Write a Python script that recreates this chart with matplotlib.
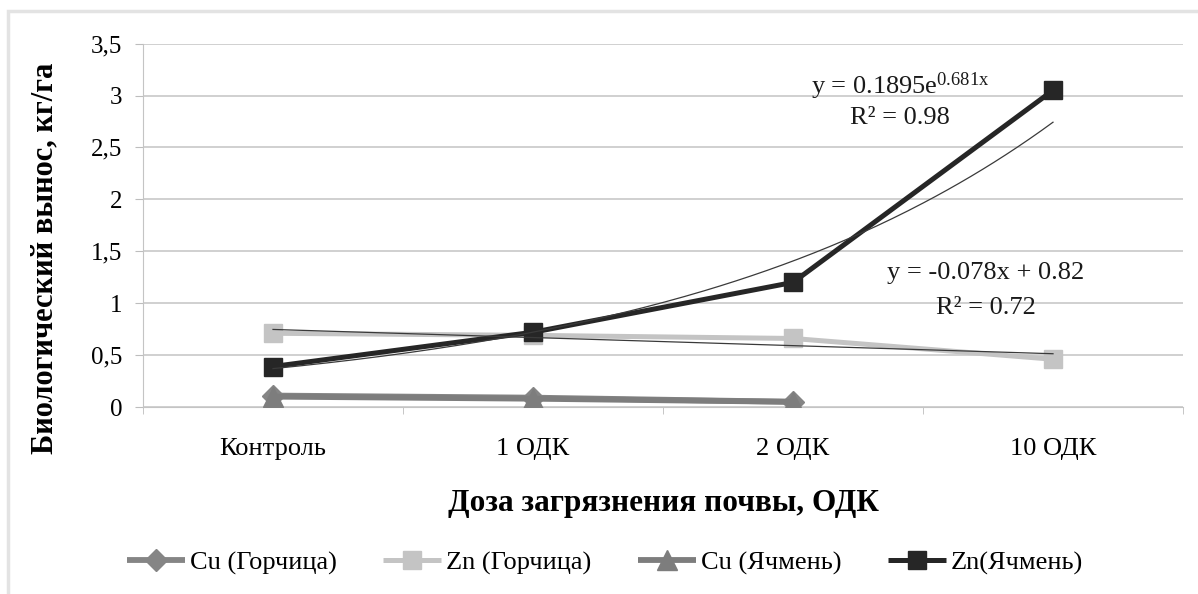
import numpy as np
import matplotlib
matplotlib.use("Agg")
import matplotlib.pyplot as plt
from matplotlib.patches import Rectangle

categories = ["Контроль", "1 ОДК", "2 ОДК", "10 ОДК"]
cu_gorchica = [0.11, 0.09, 0.05]
zn_gorchica = [0.71, 0.69, 0.66, 0.46]
cu_yachmen = [0.10, 0.08, 0.05]
zn_yachmen = [0.39, 0.72, 1.20, 3.05]
y_ticks = [0, 0.5, 1, 1.5, 2, 2.5, 3, 3.5]
y_tick_labels = ["0", "0,5", "1", "1,5", "2", "2,5", "3", "3,5"]

plt.rcParams['font.family'] = ['Liberation Serif', 'DejaVu Serif']
plt.rcParams['mathtext.fontset'] = 'custom'
plt.rcParams['mathtext.rm'] = 'Liberation Serif'
plt.rcParams['mathtext.it'] = 'Liberation Serif'

W, H = 1198, 594
fig = plt.figure(figsize=(W / 100, H / 100), dpi=100)
fig.patch.set_facecolor('white')
fig.add_artist(Rectangle((8 / W, -0.05), 1.1, 1 - 11 / H + 0.05, transform=fig.transFigure,
                         fill=False, edgecolor='#e3e3e3', linewidth=2.5))

ax = fig.add_axes([143 / W, 1 - 407 / H, (1183 - 143) / W, (407 - 43.6) / H])
x = np.arange(1, len(categories) + 1)

ax.plot(x[:3], cu_gorchica, color='#858585', lw=4.2, marker='D', ms=11, zorder=3,
        label='Cu (Горчица)', solid_capstyle='butt')
ax.plot(x, zn_gorchica, color='#c4c4c4', lw=3.6, marker='s', ms=13.5, zorder=4,
        label='Zn (Горчица)', solid_capstyle='butt')
ax.plot(x[:3], cu_yachmen, color='#7d7d7d', lw=4.2, marker='^', ms=14, zorder=5,
        label='Cu (Ячмень)', solid_capstyle='butt')
ax.plot(x, zn_yachmen, color='#262626', lw=3.6, marker='s', ms=13.5, zorder=6,
        label='Zn(Ячмень)', solid_capstyle='butt')

# trendlines fitted from the data
xs = np.linspace(1, 4, 200)
b, a = np.polyfit(x, np.log(zn_yachmen), 1)
ax.plot(xs, np.exp(a) * np.exp(b * xs), color='#3a3a3a', lw=0.9, zorder=7)
m, c = np.polyfit(x, zn_gorchica, 1)
ax.plot(xs, m * xs + c, color='#3a3a3a', lw=0.9, zorder=7)

def px2x(px):
    return (px - 143) / 260 + 0.5

def py2y(py):
    return (407 - py) / 104

ax.text(px2x(811), py2y(93), r"y = 0.1895e$^{0.681x}$", fontsize=19, color='#1a1a1a',
        ha='left', va='baseline', zorder=8)
ax.text(px2x(900), py2y(118), "R² = 0.98", fontsize=19, color='#1a1a1a',
        ha='center', va='center', zorder=8)
ax.text(px2x(986), py2y(273), "y = -0.078x + 0.82", fontsize=19, color='#1a1a1a',
        ha='center', va='center', zorder=8)
ax.text(px2x(986), py2y(308), "R² = 0.72", fontsize=19, color='#1a1a1a',
        ha='center', va='center', zorder=8)

ax.set_xlim(0.5, 4.5)
ax.set_ylim(0, 3.5)
ax.set_yticks(y_ticks)
ax.set_yticklabels(y_tick_labels, fontsize=18)
ax.set_xticks(x)
ax.set_xticklabels(categories, fontsize=19)
ax.set_xticks(np.arange(0.5, 4.6, 1), minor=True)
ax.tick_params(axis='x', which='major', length=0, pad=22)
ax.tick_params(axis='x', which='minor', length=5, color='#bdbdbd', direction='out')
ax.tick_params(axis='y', length=6, color='#bdbdbd', pad=9)
ax.grid(axis='y', color='#c4c4c4', lw=1.1)
ax.set_axisbelow(True)
for s in ['top', 'right']:
    ax.spines[s].set_visible(False)
ax.spines['left'].set_color('#c4c4c4')
ax.spines['bottom'].set_color('#c4c4c4')

fig.text(45 / W, 1 - 258 / H, "Биологический вынос, кг/га", rotation=90, fontsize=22,
         fontweight='bold', ha='center', va='center')
fig.text(663 / W, 1 - 503 / H, "Доза загрязнения почвы, ОДК", fontsize=22.5,
         fontweight='bold', ha='center', va='center')

handles, labels = ax.get_legend_handles_labels()
leg = fig.legend(handles, labels, loc='center', bbox_to_anchor=(605 / W, 1 - 563 / H),
                 ncol=4, frameon=False, fontsize=19, handlelength=2.2, handletextpad=0.2,
                 columnspacing=1.75)

fig.savefig("out.png", dpi=100, facecolor='white')
